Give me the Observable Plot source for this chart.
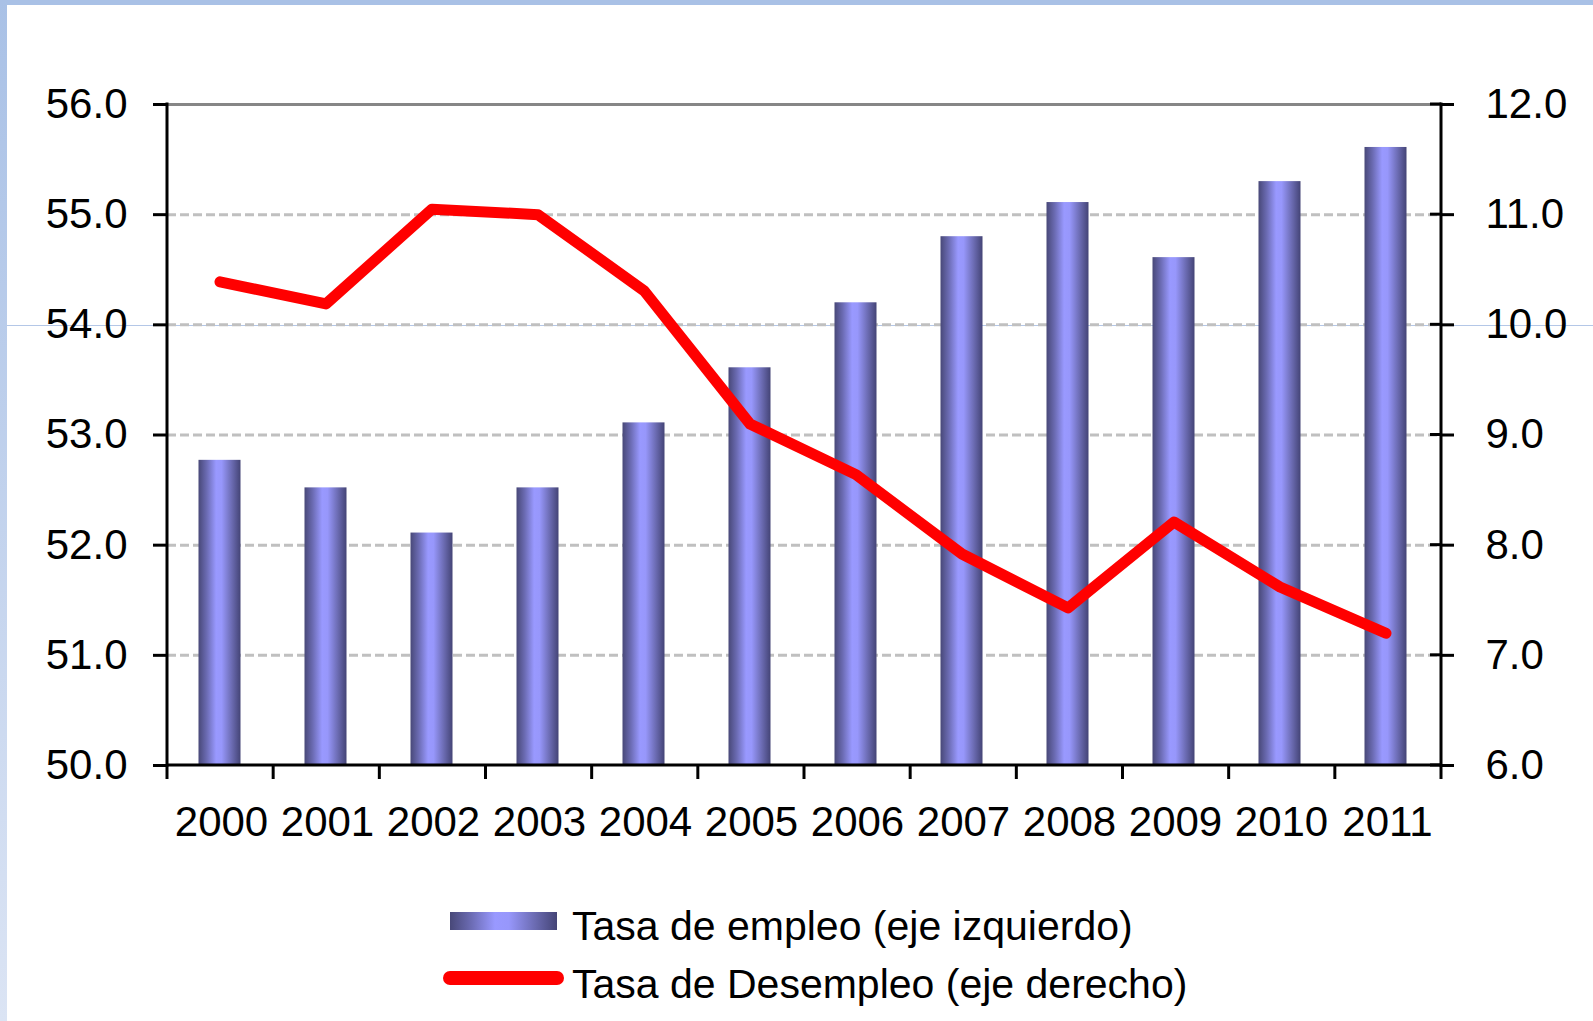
<!DOCTYPE html>
<html>
<head>
<meta charset="utf-8">
<script src="https://cdn.jsdelivr.net/npm/d3@7"></script>
<script src="https://cdn.jsdelivr.net/npm/@observablehq/plot@0.6"></script>
<style>
  html, body { margin: 0; padding: 0; background: #fff; }
  body { width: 1593px; height: 1021px; overflow: hidden; position: relative; font-family: "Liberation Sans", Arial, sans-serif; }
  #topband { position: absolute; left: 0; top: 0; width: 1593px; height: 5px; background: #a9c1e6; z-index: 3; }
  #leftband { position: absolute; left: 0; top: 0; width: 7px; height: 1021px; background: linear-gradient(#a9c1e6, #dbe4f4); z-index: 3; }
  #guide { position: absolute; left: 0; top: 325px; width: 1593px; height: 1px; background: #b4c7e7; z-index: 0; }
  #chart { position: absolute; left: 0; top: 0; z-index: 1; }
  .legend { position: absolute; z-index: 2; }
  .sw-bar { left: 450px; top: 912px; width: 107px; height: 18px;
    background: linear-gradient(to right, #484878 0%, #6c6cb4 20%, #9999ff 42%, #9797fb 55%, #6a6ab0 80%, #444476 100%); }
  .sw-line { left: 443px; top: 971px; width: 121px; height: 14px; border-radius: 7px; background: #ff0000; }
  .lg-text { left: 572px; font-size: 41px; line-height: 41px; color: #000; white-space: nowrap; }
</style>
</head>
<body>
<div id="topband"></div>
<div id="leftband"></div>
<div id="guide"></div>
<div id="chart"></div>
<div class="legend sw-bar"></div>
<div class="legend lg-text" id="lg1" style="top:906px"></div>
<div class="legend sw-line"></div>
<div class="legend lg-text" id="lg2" style="top:964px"></div>
<script>
// ---- data ----
const years = ["2000","2001","2002","2003","2004","2005","2006","2007","2008","2009","2010","2011"];
const empleo = [52.77, 52.52, 52.11, 52.52, 53.11, 53.61, 54.20, 54.80, 55.11, 54.61, 55.30, 55.61];
const desempleo = [10.39, 10.19, 11.05, 11.00, 10.31, 9.10, 8.64, 7.92, 7.43, 8.21, 7.62, 7.20];
const leftTicks = [50, 51, 52, 53, 54, 55, 56];
const rightTicks = [6, 7, 8, 9, 10, 11, 12];
const legendLabels = ["Tasa de empleo (eje izquierdo)", "Tasa de Desempleo (eje derecho)"];

document.getElementById("lg1").textContent = legendLabels[0];
document.getElementById("lg2").textContent = legendLabels[1];

// right axis mapped onto left axis domain
const offset = leftTicks[0] - rightTicks[0];
const yMin = leftTicks[0], yMax = leftTicks[leftTicks.length - 1];
const rows = years.map((year, i) => ({year, empleo: empleo[i], desempleo: desempleo[i]}));

const NS = "http://www.w3.org/2000/svg";
function el(name, attrs) {
  const e = document.createElementNS(NS, name);
  for (const k in attrs) e.setAttribute(k, attrs[k]);
  return e;
}

function defs() {
  const d = el("defs", {});
  const g = el("linearGradient", {id: "barGrad", x1: "0", x2: "1", y1: "0", y2: "0"});
  [["0%", "#484878"], ["20%", "#6c6cb4"], ["42%", "#9999ff"], ["55%", "#9797fb"], ["80%", "#6a6ab0"], ["100%", "#444476"]]
    .forEach(([o, c]) => g.appendChild(el("stop", {offset: o, "stop-color": c})));
  d.appendChild(g);
  return d;
}

function frameAndTicks(index, scales, values, dims) {
  const {width, height, marginLeft, marginRight, marginBottom} = dims;
  const x0 = marginLeft, x1 = width - marginRight, yb = height - marginBottom;
  const yt = scales.y(yMax);
  const g = el("g", {stroke: "#000", "stroke-width": 3, fill: "none"});
  g.appendChild(el("line", {x1: x0, x2: x0, y1: yt - 1.5, y2: yb + 1.5}));
  g.appendChild(el("line", {x1: x1, x2: x1, y1: yt - 1.5, y2: yb + 1.5}));
  g.appendChild(el("line", {x1: x0, x2: x1, y1: yb, y2: yb}));
  const n = years.length;
  for (let i = 0; i <= n; ++i) {
    const xb = x0 + (i * (x1 - x0)) / n;
    g.appendChild(el("line", {x1: xb, x2: xb, y1: yb, y2: yb + 14}));
  }
  for (const v of rightTicks) {
    const yy = scales.y(v + offset);
    g.appendChild(el("line", {x1: x1 - 11, x2: x1, y1: yy, y2: yy}));
  }
  return g;
}

const chart = Plot.plot({
  width: 1593,
  height: 880,
  marginLeft: 167,
  marginRight: 152,
  marginTop: 104,
  marginBottom: 115,
  style: {background: "transparent", fontFamily: "'Liberation Sans', Arial, sans-serif", color: "#000", overflow: "visible"},
  x: {type: "band", domain: years, paddingInner: 0.6, paddingOuter: 0.3},
  y: {domain: [yMin, yMax]},
  marks: [
    defs,
    Plot.ruleY(leftTicks.slice(1, -1), {stroke: "#c0c0c0", strokeWidth: 3, strokeDasharray: "9,4"}),
    Plot.ruleY([yMax], {stroke: "#868686", strokeWidth: 3}),
    Plot.barY(rows, {x: "year", y1: () => yMin, y2: "empleo", fill: "url(#barGrad)", dx: -1.5}),
    Plot.line(rows, {x: "year", y: d => d.desempleo + offset, stroke: "#ff0000", strokeWidth: 11, strokeLinecap: "round", strokeLinejoin: "round", dx: -1.5}),
    Plot.axisY(leftTicks, {anchor: "left", tickSize: 14, tickPadding: 26, strokeWidth: 3, fontSize: 42, tickFormat: d => d.toFixed(1), label: null}),
    Plot.axisY(rightTicks.map(v => v + offset), {anchor: "right", tickSize: 12, tickPadding: 32, strokeWidth: 3, fontSize: 42, tickFormat: d => (d - offset).toFixed(1), label: null}),
    Plot.axisX({anchor: "bottom", tickSize: 0, tickPadding: 41, fontSize: 42, label: null}),
    frameAndTicks
  ]
});
document.getElementById("chart").appendChild(chart);
</script>
</body>
</html>
